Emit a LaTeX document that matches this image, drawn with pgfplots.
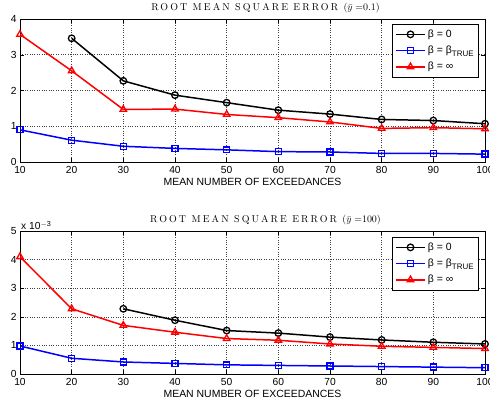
\documentclass[border=0pt]{standalone}
\usepackage{fontspec}
\setsansfont{Liberation Sans}
\newfontfamily\titlefont{lmroman10-regular.otf}[LetterSpace=21]
\usepackage{pgfplots}
\pgfplotsset{compat=1.18}

\pgfplotsset{
  rmse/.style={
    scale only axis, width=465bp, height=143bp,
    xmin=10, xmax=100, xtick={10,20,...,100},
    ymin=0,
    grid=major, major grid style={dotted, black!75, line width=0.6pt},
    tick align=inside, tick style={black, line width=0.5pt},
    axis line style={line width=0.9pt},
    font=\fontsize{10.5}{12}\sffamily,
    /pgf/number format/assume math mode=true,
    xlabel={MEAN NUMBER OF EXCEEDANCES},
    xlabel style={yshift=1.5pt},
    ticklabel style={font=\fontsize{10.3}{12}\sffamily},
    xticklabel style={yshift=-0.5pt},
    title style={font=\fontsize{10}{12}\titlefont,
      at={(0.5,1)}, anchor=base, yshift=3bp, xshift=13bp},
    legend cell align=left,
    legend style={draw=black, line width=0.7pt, font=\fontsize{10.5}{12}\sffamily,
      at={(0.987,0.965)}, anchor=north east, inner xsep=3pt, inner ysep=3.5pt,
      row sep=3.2pt},
    legend image code/.code={\draw[mark repeat=2, mark phase=2, #1]
      plot coordinates {(0cm,0cm) (0.52cm,0cm) (1.04cm,0cm)};},
    every axis plot/.append style={line width=1.5pt, mark size=3.3pt,
      mark options={solid, fill=white, line width=1.3pt}},
  },
  s0/.style={black, mark=o},
  st/.style={blue, mark=square, mark size=3pt},
  si/.style={red, mark=triangle, mark size=3.8pt},
}

\begin{document}
\begin{tikzpicture}
\useasboundingbox (0,0) rectangle (490bp,407bp);

\begin{axis}[rmse, at={(20bp,245bp)}, anchor=south west, ymax=4, ytick={0,1,2,3,4},
  title={ROOT MEAN SQUARE ERROR $(\bar{y}\;{=}0.1)$}]
\addplot[s0] coordinates {(20,3.46)(30,2.27)(40,1.87)(50,1.66)(60,1.45)(70,1.34)(80,1.19)(90,1.16)(100,1.07)};
\addlegendentry{β = 0}
\addplot[st] coordinates {(10,0.90)(20,0.61)(30,0.44)(40,0.38)(50,0.34)(60,0.29)(70,0.28)(80,0.24)(90,0.24)(100,0.22)};
\addlegendentry{β = β\raisebox{-0.45ex}{\fontsize{8}{8}\selectfont TRUE}}
\addplot[si] coordinates {(10,3.57)(20,2.55)(30,1.47)(40,1.48)(50,1.33)(60,1.24)(70,1.12)(80,0.94)(90,0.96)(100,0.93)};
\addlegendentry{β = ∞}
\end{axis}

\begin{axis}[rmse, at={(20bp,33bp)}, anchor=south west, ymax=5e-3, ytick={0,1e-3,2e-3,3e-3,4e-3,5e-3},
  scaled y ticks=base 10:3,
  ytick scale label code/.code={x 10\textsuperscript{$-$3}},
  every y tick scale label/.style={at={(rel axis cs:0,1)}, anchor=south west, inner sep=1pt},
  legend style={at={(0.987,0.958)}},
  title={ROOT MEAN SQUARE ERROR $(\bar{y}\;{=}100)$}]
\addplot[s0] coordinates {(30,2.28e-3)(40,1.88e-3)(50,1.52e-3)(60,1.43e-3)(70,1.29e-3)(80,1.19e-3)(90,1.11e-3)(100,1.05e-3)};
\addlegendentry{β = 0}
\addplot[st] coordinates {(10,0.98e-3)(20,0.55e-3)(30,0.42e-3)(40,0.37e-3)(50,0.32e-3)(60,0.30e-3)(70,0.28e-3)(80,0.26e-3)(90,0.24e-3)(100,0.22e-3)};
\addlegendentry{β = β\raisebox{-0.45ex}{\fontsize{8}{8}\selectfont TRUE}}
\addplot[si] coordinates {(10,4.10e-3)(20,2.28e-3)(30,1.70e-3)(40,1.46e-3)(50,1.24e-3)(60,1.18e-3)(70,1.05e-3)(80,0.97e-3)(90,0.93e-3)(100,0.89e-3)};
\addlegendentry{β = ∞}
\end{axis}
\end{tikzpicture}
\end{document}
